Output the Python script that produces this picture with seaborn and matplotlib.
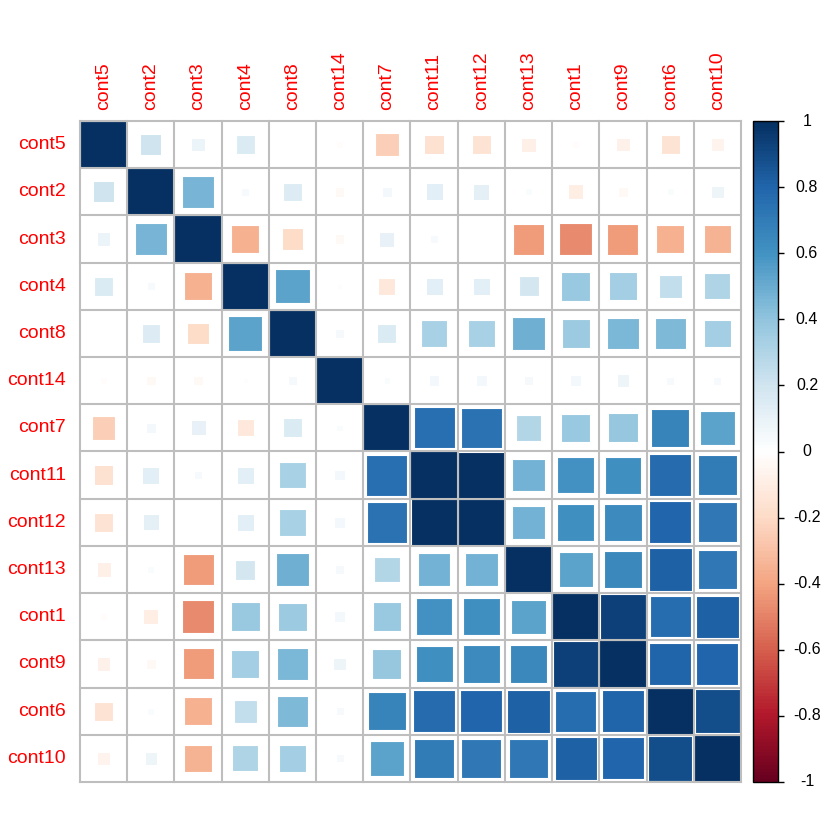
import numpy as np
import pandas as pd
import matplotlib
matplotlib.use("Agg")
import matplotlib.pyplot as plt
import seaborn as sns
from matplotlib.colors import LinearSegmentedColormap, ListedColormap, Normalize
from matplotlib.patches import Rectangle
from matplotlib.colorbar import ColorbarBase

plt.rcParams['font.family'] = ['Liberation Sans', 'DejaVu Sans']

labels = ["cont5", "cont2", "cont3", "cont4", "cont8", "cont14", "cont7",
          "cont11", "cont12", "cont13", "cont1", "cont9", "cont6", "cont10"]

# upper triangle rows (from the diagonal to the right)
r_cont5 = [1, 0.20, 0.08, 0.16, 0.00, -0.02, -0.25, -0.17, -0.16, -0.09, -0.02, -0.08, -0.16, -0.07]
r_cont2 = [1, 0.46, 0.03, 0.15, -0.04, 0.05, 0.13, 0.11, 0.02, -0.10, -0.04, 0.02, 0.07]
r_cont3 = [1, -0.36, -0.20, -0.04, 0.10, 0.03, 0.00, -0.43, -0.48, -0.43, -0.36, -0.34]
r_cont4 = [1, 0.53, 0.01, -0.13, 0.13, 0.13, 0.18, 0.37, 0.34, 0.24, 0.30]
r_cont8 = [1, 0.04, 0.16, 0.32, 0.32, 0.48, 0.36, 0.45, 0.44, 0.34]
r_cont14 = [1, 0.02, 0.05, 0.05, 0.04, 0.05, 0.07, 0.03, 0.03]
r_cont7 = [1, 0.75, 0.74, 0.29, 0.37, 0.38, 0.66, 0.53]
r_cont11 = [1, 0.99, 0.47, 0.60, 0.61, 0.77, 0.70]
r_cont12 = [1, 0.47, 0.61, 0.63, 0.79, 0.71]
r_cont13 = [1, 0.53, 0.64, 0.82, 0.71]
r_cont1 = [1, 0.93, 0.76, 0.81]
r_cont9 = [1, 0.80, 0.79]
r_cont6 = [1, 0.88]
r_cont10 = [1]

rows = [r_cont5, r_cont2, r_cont3, r_cont4, r_cont8, r_cont14, r_cont7,
        r_cont11, r_cont12, r_cont13, r_cont1, r_cont9, r_cont6, r_cont10]
n = len(labels)
M = np.zeros((n, n))
for i, row in enumerate(rows):
    for k, v in enumerate(row):
        M[i, i + k] = v
        M[i + k, i] = v
corr = pd.DataFrame(M, index=labels, columns=labels)

cmap = LinearSegmentedColormap.from_list(
    "corrRdBu",
    ["#67001F", "#B2182B", "#D6604D", "#F4A582", "#FDDBC7", "#FFFFFF",
     "#D1E5F0", "#92C5DE", "#4393C3", "#2166AC", "#053061"], N=200)
norm = Normalize(-1, 1)

W = 840
fig = plt.figure(figsize=(8.4, 8.4), dpi=100)
ax = fig.add_axes([80 / W, 1 - 782 / W, 661 / W, 661 / W])
sns.heatmap(corr * 0, ax=ax, cmap=ListedColormap(["white"]), cbar=False,
            linewidths=0, square=False)

for i in range(n):
    for j in range(n):
        r = corr.iloc[i, j]
        s = np.sqrt(abs(r))
        if s <= 0:
            continue
        ax.add_patch(Rectangle((j + 0.5 - s / 2, i + 0.5 - s / 2), s, s,
                               facecolor=cmap(norm(r)), edgecolor="white",
                               linewidth=0.8, zorder=2))

for k in range(n + 1):
    ax.axhline(k, color="#BEBEBE", lw=1.5, zorder=3, clip_on=False)
    ax.axvline(k, color="#BEBEBE", lw=1.5, zorder=3, clip_on=False)

for sp in ax.spines.values():
    sp.set_visible(False)

ax.xaxis.tick_top()
ax.set_xticks(np.arange(n) + 0.5)
ax.set_xticklabels(labels, rotation=90, color="red", fontsize=14)
ax.set_yticks(np.arange(n) + 0.5)
ax.set_yticklabels(labels, rotation=0, color="red", fontsize=14)
ax.tick_params(axis="x", length=0, pad=8)
ax.tick_params(axis="y", length=0, pad=10)
ax.set_xlabel("")
ax.set_ylabel("")

cax = fig.add_axes([753 / W, 1 - 782 / W, 25 / W, 661 / W])
cb = ColorbarBase(cax, cmap=cmap, norm=norm, orientation="vertical")
cb.outline.set_linewidth(1.0)
cb.outline.set_edgecolor("black")
tick_vals = np.round(np.arange(-1, 1.01, 0.2), 1)
cb.set_ticks(tick_vals)
cax.yaxis.set_ticklabels([])
cax.tick_params(axis="y", length=4, width=1, color="black", direction="out")
for v in tick_vals:
    lab = "0" if abs(v) < 1e-9 else ("%g" % v)
    cax.text(2.16, v, lab, ha="center", va="center", fontsize=11.5,
             color="black", transform=cax.get_yaxis_transform())

fig.savefig("out.png", dpi=100)
